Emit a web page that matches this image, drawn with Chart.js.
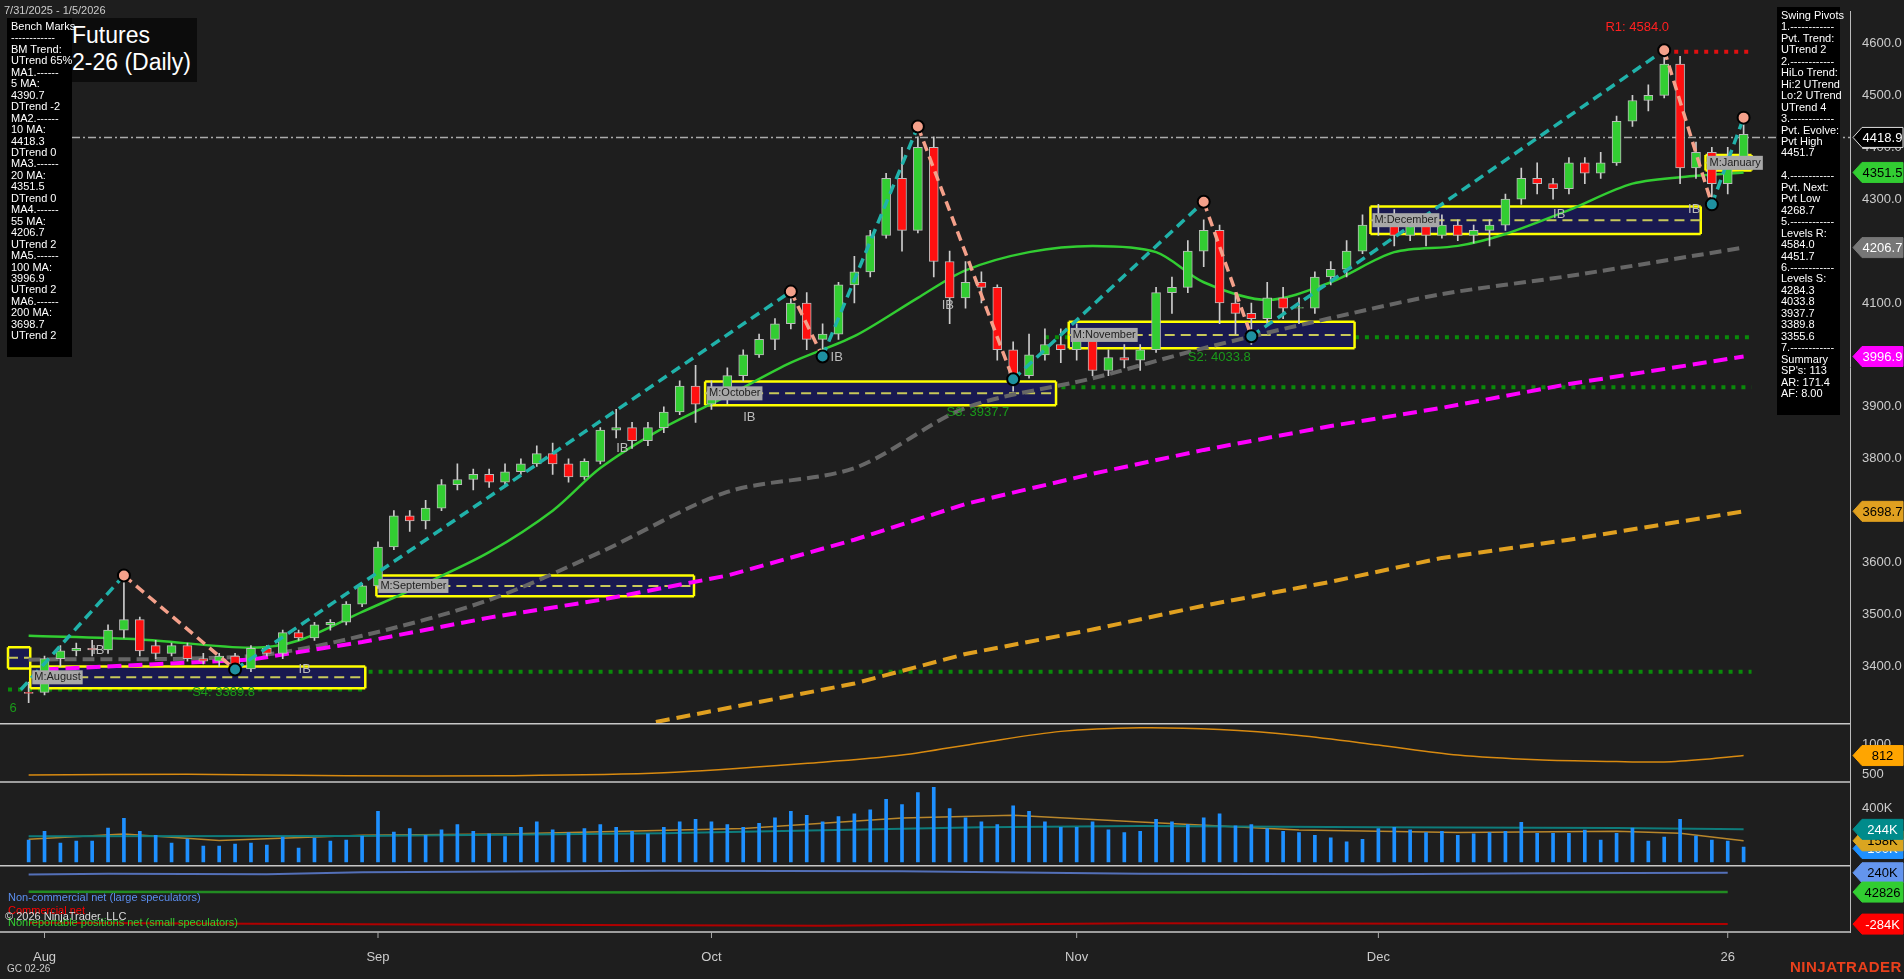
<!DOCTYPE html>
<html><head><meta charset="utf-8">
<script src="https://cdn.jsdelivr.net/npm/chart.js@4.4.1/dist/chart.umd.min.js"></script>
<style>
html,body{margin:0;padding:0;background:#1e1e1e;width:1904px;height:979px;overflow:hidden;font-family:"Liberation Sans",Arial,sans-serif}
#wrap{position:absolute;left:0;top:0;width:1904px;height:979px}
.panel{position:absolute;background:#000;color:#fff;font-size:11px;line-height:11.45px;white-space:pre}
.t{position:absolute;white-space:nowrap}
</style></head><body>
<div id="wrap"><canvas id="c" width="1904" height="979"></canvas></div>
<div class="t" style="left:4px;top:4px;color:#ccc;font-size:11px">7/31/2025 - 1/5/2026</div>
<div class="panel" style="left:72px;top:18px;width:125px;height:60px;font-size:23px;line-height:27px;padding:4px 0 0 0;background:#0c0c0c">Futures
2-26 (Daily)</div>
<div class="panel" id="bm" style="left:7px;top:18px;width:65px;height:339px;padding:3px 0 0 4px;box-sizing:border-box"></div>
<div class="panel" id="sp" style="left:1777px;top:7px;width:63px;height:408px;padding:3px 0 0 4px;box-sizing:border-box"></div>
<div class="t" style="left:8px;top:891px;color:#5b8ff0;font-size:11px">Non-commercial net (large speculators)</div>
<div class="t" style="left:8px;top:904px;color:#f00;font-size:11px">Commercial net</div>
<div class="t" style="left:8px;top:916px;color:#32cd32;font-size:11px">Nonreportable positions net (small speculators)</div>
<div class="t" style="left:5px;top:910px;color:#ddd;font-size:11px">© 2026 NinjaTrader, LLC</div>
<div class="t" style="left:7px;top:963px;color:#ccc;font-size:10px">GC 02-26</div>
<div class="t" style="left:1790px;top:958px;color:#e8401c;font-size:15px;font-weight:bold;letter-spacing:0.5px">NINJATRADER</div>
<script>
// ---------- DATA ----------
const monthTickIdx = [1, 22, 43, 66, 85, 107];
const monthTickLabels = ['Aug', 'Sep', 'Oct', 'Nov', 'Dec', '26'];
// daily OHLC, 7/31/2025 .. 1/5/2026 (trading days)
const opens  = [3350,3350,3415,3430,3435,3432,3470,3490,3440,3425,3440,3415,3410,3420,3395,3435,3425,3465,3455,3480,3485,3520,3555,3630,3690,3680,3705,3750,3760,3770,3755,3775,3790,3810,3790,3765,3795,3855,3860,3835,3860,3890,3940,3905,3930,3960,4000,4030,4060,4100,4030,4040,4135,4160,4230,4340,4240,4400,4180,4110,4140,4130,4010,3960,4000,4020,4010,4040,3970,3995,3990,4010,4120,4130,4200,4240,4100,4080,4070,4110,4090,4090,4150,4165,4200,4250,4270,4230,4250,4230,4250,4230,4240,4250,4300,4340,4330,4320,4370,4350,4370,4450,4490,4500,4560,4360,4390,4330,4370];
const highs  = [3370,3420,3440,3445,3450,3480,3575,3495,3450,3445,3445,3425,3425,3425,3440,3440,3470,3470,3485,3490,3525,3560,3640,3700,3700,3720,3760,3790,3780,3780,3790,3800,3825,3830,3800,3800,3860,3895,3870,3870,3900,3950,3980,3950,3975,4010,4040,4070,4110,4120,4060,4140,4190,4240,4350,4400,4420,4420,4200,4180,4160,4135,4025,4040,4050,4050,4060,4045,4010,4020,4020,4130,4150,4220,4260,4250,4120,4100,4140,4130,4110,4160,4180,4220,4270,4290,4280,4270,4260,4270,4260,4250,4260,4310,4360,4370,4340,4380,4380,4390,4460,4500,4520,4584,4575,4410,4400,4400,4455];
const lows   = [3330,3345,3400,3420,3420,3425,3455,3420,3415,3420,3410,3405,3400,3390,3390,3420,3415,3450,3450,3470,3480,3515,3550,3625,3660,3665,3700,3740,3740,3745,3750,3770,3785,3770,3755,3760,3790,3840,3820,3825,3850,3885,3870,3895,3905,3950,3995,4010,4050,4010,3990,4030,4100,4150,4225,4200,4235,4150,4060,4090,4100,3990,3930,3955,3990,3985,3990,3960,3960,3975,3970,4005,4080,4120,4170,4060,4040,4020,4060,4070,4060,4080,4135,4150,4195,4230,4210,4220,4210,4225,4220,4215,4210,4240,4290,4310,4300,4310,4330,4340,4365,4440,4470,4495,4330,4340,4290,4310,4360];
const closes = [3348,3415,3430,3435,3432,3470,3490,3430,3425,3440,3415,3410,3420,3395,3435,3425,3465,3455,3480,3485,3520,3555,3630,3690,3680,3705,3750,3760,3770,3755,3775,3790,3810,3790,3765,3795,3855,3860,3835,3860,3890,3940,3905,3930,3960,4000,4030,4060,4100,4030,4040,4135,4160,4230,4340,4240,4400,4180,4110,4140,4130,4010,3960,4000,4020,4010,4040,3970,3995,3990,4010,4120,4130,4200,4240,4100,4080,4070,4110,4090,4090,4150,4165,4200,4250,4270,4230,4250,4230,4250,4230,4240,4250,4300,4340,4330,4320,4370,4350,4370,4450,4490,4500,4560,4360,4390,4330,4370,4425];
const volumeK = [163,230,141,156,156,253,327,230,200,141,171,119,119,134,141,126,186,104,178,156,163,193,379,223,250,200,240,280,230,210,190,260,300,240,220,250,280,260,230,210,260,300,320,300,280,260,290,330,380,350,300,340,360,390,470,430,520,560,400,330,300,280,420,380,300,260,260,300,240,220,230,320,300,280,330,360,270,280,250,230,220,200,180,150,170,250,260,240,220,230,200,210,220,230,297,215,215,215,238,163,215,253,156,186,320,193,163,156,111];
// moving averages [barIndex, value]
const ma20  = [[0,3459],[7,3452],[14,3436],[17,3450],[21,3505],[25,3560],[29,3620],[33,3700],[36,3782],[40,3860],[44,3921],[48,3985],[52,4036],[56,4110],[59,4163],[63,4198],[67,4210],[71,4198],[74,4140],[78,4106],[82,4140],[86,4198],[90,4210],[93,4233],[97,4279],[101,4330],[105,4345],[108,4351.5]];
const ma55  = [[0,3413],[14,3420],[21,3459],[29,3528],[36,3620],[44,3736],[52,3782],[59,3898],[67,3955],[74,4013],[82,4071],[89,4117],[97,4152],[108,4206.7]];
const ma100 = [[1,3394],[14,3413],[21,3447],[29,3494],[36,3528],[44,3575],[52,3644],[59,3713],[67,3771],[74,3817],[82,3863],[89,3898],[97,3944],[108,3996.9]];
const ma200 = [[39.5,3293],[52,3367],[59,3424],[67,3471],[74,3517],[82,3563],[89,3609],[97,3644],[108,3698.7]];
const swingPts = [[-0.5,3355],[6,3575],[13,3394],[48,4122],[50,3997],[56,4440],[62,3953],[74,4295],[77,4036],[103,4587],[106,4290],[108,4457]];
const pivotHighs = [[6,3575],[48,4122],[56,4440],[74,4295],[103,4587],[108,4457]];
const pivotLows = [[13,3394],[50,3997],[62,3953],[77,4036],[106,4290]];
// monthly boxes: label, startIdx, endIdx, high, low
const boxLabels = ['', 'M:August', 'M:September', 'M:October', 'M:November', 'M:December', 'M:January'];
const boxStart  = [-1.3, 0.1, 21.9, 42.6, 65.5, 84.5, 105.6];
const boxEnd    = [0.1, 21.2, 41.9, 64.7, 83.5, 105.3, 108.5];
const boxHigh   = [3437, 3400, 3575, 3949, 4064, 4286, 4385];
const boxLow    = [3396, 3358, 3535, 3903, 4013, 4233, 4355];
// levels: value, fromIdx, toIdx
const supportLevels = [4033.8, 3937.7, 3389.8, 3355.6];
const supportFrom = [64, 60, 17, -1.3];
const supportTo = [108.5, 108.5, 108.5, 21];
const r1Level = 4584.0;
const lastPrice = 4418.9;
// sub panels
const oiLine = [[0,485],[10,495],[20,470],[30,470],[40,520],[50,700],[55,820],[60,1030],[65,1220],[70,1280],[75,1250],[80,1150],[85,990],[90,820],[95,740],[100,710],[103,705],[106,760],[108,812]];
const volAvgTeal = [[0,193],[21,195],[40,215],[60,260],[70,270],[85,260],[100,255],[108,244]];
const volAvgOrange = [[0,170],[6,210],[12,160],[21,200],[30,210],[45,250],[55,330],[62,350],[70,300],[80,240],[90,220],[100,230],[104,215],[108,158]];
const cotNonComm = [[0,223],[5,230],[15,225],[21,245],[40,260],[55,255],[70,230],[85,225],[95,235],[107,240]];
const cotNonRep = [[0,45],[21,40],[50,38],[80,42],[107,43]];
const cotComm = [[0,-270],[21,-285],[50,-300],[70,-275],[90,-280],[107,-284]];
const bmText = ['Bench Marks','------------','BM Trend:','UTrend 65%','MA1.------','5 MA:','4390.7','DTrend -2','MA2.------','10 MA:','4418.3','DTrend 0','MA3.------','20 MA:','4351.5','DTrend 0','MA4.------','55 MA:','4206.7','UTrend 2','MA5.------','100 MA:','3996.9','UTrend 2','MA6.------','200 MA:','3698.7','UTrend 2'];
const spText = ['Swing Pivots','1.------------','Pvt. Trend:','UTrend 2','2.------------','HiLo Trend:','Hi:2 UTrend','Lo:2 UTrend','UTrend 4','3.------------','Pvt. Evolve:','Pvt High','4451.7','','4.------------','Pvt. Next:','Pvt Low','4268.7','5.------------','Levels R:','4584.0','4451.7','6.------------','Levels S:','4284.3','4033.8','3937.7','3389.8','3355.6','7.------------','Summary',"SP's: 113",'AR: 171.4','AF: 8.00'];

document.getElementById('bm').textContent = bmText.join('\n');
document.getElementById('sp').textContent = spText.join('\n');

// ---------- build datasets ----------
const idx = closes.map((_, i) => i);
const pts = a => a.map(p => ({x: p[0], y: p[1]}));
const up = idx.map(i => closes[i] >= opens[i]);
const datasets = [
  {type:'line', data: pts(ma200), yAxisID:'y', borderColor:'#e0a020', borderWidth:4, borderDash:[14,7], pointRadius:0, order:20},
  {type:'line', data: pts(ma100), yAxisID:'y', borderColor:'#ff00ff', borderWidth:4, borderDash:[14,7], pointRadius:0, order:20},
  {type:'line', data: pts(ma55), yAxisID:'y', borderColor:'#666', borderWidth:4, borderDash:[12,6], pointRadius:0, order:20, tension:0.3},
  {type:'line', data: pts(ma20), yAxisID:'y', borderColor:'#32cd32', borderWidth:2.5, pointRadius:0, order:20, tension:0.3},
  {type:'bar', data: idx.map(i => ({x:i, y:[lows[i], highs[i]]})), yAxisID:'y', backgroundColor:'#ccc', barThickness:1, grouped:false, order:10},
  {type:'bar', data: idx.map(i => ({x:i, y:[opens[i], closes[i] === opens[i] ? closes[i]+1 : closes[i]]})), yAxisID:'y',
    backgroundColor: idx.map(i => up[i] ? '#32cd32' : '#ff1010'), borderColor:'#bbb', borderWidth:1, borderSkipped:false, barThickness:9, grouped:false, order:9},
  {type:'line', data: pts(swingPts), yAxisID:'y', borderWidth:3.5, borderDash:[10,6], pointRadius:0, order:5,
    segment:{borderColor: c => c.p1.parsed.y > c.p0.parsed.y ? '#20b2aa' : '#f4a08a'}},
  {type:'scatter', data: pts(pivotHighs), yAxisID:'y', pointRadius:6, backgroundColor:'#f4a08a', borderColor:'#000', borderWidth:2, order:4},
  {type:'scatter', data: pts(pivotLows), yAxisID:'y', pointRadius:6, backgroundColor:'#1e90a0', borderColor:'#000', borderWidth:2, order:4},
  {type:'line', data: pts(oiLine), yAxisID:'y2', borderColor:'#d88a10', borderWidth:1.5, pointRadius:0, tension:0.3},
  {type:'bar', data: idx.map(i => ({x:i, y:volumeK[i]})), yAxisID:'y3', backgroundColor:'#1e90ff', barThickness:3, grouped:false},
  {type:'line', data: pts(volAvgTeal), yAxisID:'y3', borderColor:'#0e7c7b', borderWidth:2, pointRadius:0},
  {type:'line', data: pts(volAvgOrange), yAxisID:'y3', borderColor:'#b8862b', borderWidth:1.5, pointRadius:0},
  {type:'line', data: pts(cotNonComm), yAxisID:'y4', borderColor:'#5470b8', borderWidth:2, pointRadius:0},
  {type:'line', data: pts(cotNonRep), yAxisID:'y4', borderColor:'#228b22', borderWidth:2.5, pointRadius:0},
  {type:'line', data: pts(cotComm), yAxisID:'y4', borderColor:'#b00000', borderWidth:2, pointRadius:0},
];

const tagDefs = [
  ['y', 4418.9, '4418.9', '#000', '#fff', '#ddd'],
  ['y', 4351.5, '4351.5', '#32cd32', '#000', '#32cd32'],
  ['y', 4206.7, '4206.7', '#777', '#fff', '#777'],
  ['y', 3996.9, '3996.9', '#ff00ff', '#fff', '#ff00ff'],
  ['y', 3698.7, '3698.7', '#e0a020', '#000', '#e0a020'],
  ['y2', 812, '812', '#ffa500', '#000', '#ffa500'],
  ['y3', 100, '100K', '#1e90ff', '#fff', '#1e90ff'],
  ['y3', 158, '158K', '#daa520', '#000', '#daa520'],
  ['y3', 244, '244K', '#008b8b', '#fff', '#008b8b'],
  ['y4', 240, '240K', '#6495ed', '#000', '#6495ed'],
  ['y4', 42.8, '42826', '#32cd32', '#000', '#32cd32'],
  ['y4', -284, '-284K', '#ff0000', '#fff', '#ff0000'],
];

const overlay = {
  id:'overlay',
  beforeDatasetsDraw(ch){
    const c = ch.ctx, X = ch.scales.x, Y = ch.scales.y;
    c.save();
    c.strokeStyle = '#aaa'; c.lineWidth = 1.5; c.setLineDash([8,3,2,3]);
    c.beginPath(); c.moveTo(X.left, Y.getPixelForValue(lastPrice)); c.lineTo(X.right, Y.getPixelForValue(lastPrice)); c.stroke();
    c.strokeStyle = '#0a8a0a'; c.lineWidth = 4; c.setLineDash([4,6]);
    supportLevels.forEach((v,k) => { const y = Y.getPixelForValue(v);
      c.beginPath(); c.moveTo(X.getPixelForValue(supportFrom[k]), y); c.lineTo(X.getPixelForValue(supportTo[k]), y); c.stroke(); });
    c.strokeStyle = '#e01010';
    const ry = Y.getPixelForValue(r1Level);
    c.beginPath(); c.moveTo(X.getPixelForValue(103), ry); c.lineTo(X.getPixelForValue(108.5), ry); c.stroke();
    c.setLineDash([]);
    boxLabels.forEach((lab,k) => {
      const x1 = X.getPixelForValue(boxStart[k]), x2 = X.getPixelForValue(boxEnd[k]);
      const y1 = Y.getPixelForValue(boxHigh[k]), y2 = Y.getPixelForValue(boxLow[k]);
      c.fillStyle = '#191950'; c.fillRect(x1, y1, x2-x1, y2-y1);
      c.strokeStyle = '#ffff00'; c.lineWidth = 2.5;
      c.beginPath(); c.moveTo(x1,y1); c.lineTo(x2,y1); c.moveTo(x1,y2); c.lineTo(x2,y2); c.moveTo(x2,y1); c.lineTo(x2,y2); c.moveTo(x1,y1); c.lineTo(x1,y2); c.stroke();
      c.strokeStyle = '#c8c85a'; c.lineWidth = 2; c.setLineDash([10,6]);
      const ym = (y1+y2)/2; c.beginPath(); c.moveTo(x1,ym); c.lineTo(x2,ym); c.stroke(); c.setLineDash([]);
    });
    c.restore();
  },
  afterDatasetsDraw(ch){
    const c = ch.ctx, X = ch.scales.x, Y = ch.scales.y;
    c.save();
    c.font = '11px "Liberation Sans", Arial'; c.textBaseline = 'middle';
    boxLabels.forEach((lab,k) => { if(!lab) return;
      const x1 = X.getPixelForValue(boxStart[k]) + 2, ym = (Y.getPixelForValue(boxHigh[k]) + Y.getPixelForValue(boxLow[k]))/2;
      const w = c.measureText(lab).width + 4;
      c.fillStyle = '#a8a8a8'; c.fillRect(x1, ym-7, w, 14); c.fillStyle = '#222'; c.fillText(lab, x1+2, ym);
    });
    c.font = '13px "Liberation Sans", Arial';
    c.fillStyle = '#ff2020'; c.fillText('R1: 4584.0', X.getPixelForValue(99.3), Y.getPixelForValue(4630));
    c.fillStyle = '#1a9a1a';
    c.fillText('S2: 4033.8', X.getPixelForValue(73), Y.getPixelForValue(3995));
    c.fillText('S3: 3937.7', X.getPixelForValue(57.8), Y.getPixelForValue(3890));
    c.fillText('S4: 3389.8', X.getPixelForValue(10.3), Y.getPixelForValue(3350));
    c.fillText('6', X.getPixelForValue(-1.2), Y.getPixelForValue(3320));
    c.fillStyle = '#bbb';
    [[4,3430],[17,3395],[45,3880],[57.5,4095],[37,3820],[96,4270],[104.5,4280],[50.5,3995]].forEach(p => c.fillText('IB', X.getPixelForValue(p[0]), Y.getPixelForValue(p[1])));
    c.strokeStyle = '#c8c8c8'; c.lineWidth = 1.5;
    ['y','y2','y3','y4'].forEach(a => { const s = ch.scales[a]; c.beginPath(); c.moveTo(0, s.bottom); c.lineTo(s.left, s.bottom); c.stroke(); });
    c.strokeStyle = '#aaa'; c.lineWidth = 1;
    monthTickIdx.forEach(v => { const x = X.getPixelForValue(v); c.beginPath(); c.moveTo(x, X.top); c.lineTo(x, X.top+6); c.stroke(); });
    c.font = '13px "Liberation Sans", Arial';
    tagDefs.forEach(t => {
      const s = ch.scales[t[0]], y = s.getPixelForValue(t[1]), x0 = s.left + 3;
      c.fillStyle = t[3]; c.strokeStyle = t[5]; c.lineWidth = 1;
      c.beginPath(); c.moveTo(x0, y); c.lineTo(x0+9, y-10); c.lineTo(1903, y-10); c.lineTo(1903, y+10); c.lineTo(x0+9, y+10); c.closePath(); c.fill(); c.stroke();
      c.fillStyle = t[4]; c.textAlign = 'center'; c.fillText(t[2], (x0+9+1903)/2, y+1);
    });
    c.restore();
  }
};

const yCommon = (min, max, weight, vals, fmt) => ({
  type:'linear', position:'right', stack:'all', stackWeight:weight, min, max, offset:false,
  grid:{display:false}, border:{display:true, color:'#bbb'},
  ticks:{color:'#ccc', font:{size:13, family:'"Liberation Sans", Arial'}, padding:4, callback: fmt},
  afterBuildTicks: s => { s.ticks = vals.map(v => ({value:v})); },
  afterFit: s => { s.width = 54; }
});

new Chart(document.getElementById('c'), {
  data:{datasets},
  plugins:[overlay],
  options:{
    responsive:false, animation:false, events:[],
    layout:{padding:0},
    plugins:{legend:{display:false}, tooltip:{enabled:false}},
    scales:{
      x:{type:'linear', min:-1.3, max:114.7, offset:false, position:'bottom',
        grid:{display:false}, border:{display:false},
        ticks:{color:'#ccc', padding:10, font:{size:13, family:'"Liberation Sans", Arial'}, callback:(v)=>{const k = monthTickIdx.indexOf(v); return k>=0 ? monthTickLabels[k] : '';}},
        afterBuildTicks: s => { s.ticks = monthTickIdx.map(v => ({value:v})); },
        afterFit: s => { s.height = 47; }},
      y: yCommon(3289.7, 4660.9, 721, [3400,3500,3600,3700,3800,3900,4000,4100,4200,4300,4400,4500,4600], v => v.toFixed(1)),
      y2: yCommon(367, 1350, 59, [1000,500], v => String(v)),
      y3: yCommon(-30, 600, 85, [400], v => v+'K'),
      y4: yCommon(-364.6, 310.6, 67, [], v=>''),
    }
  }
});
</script></body></html>
